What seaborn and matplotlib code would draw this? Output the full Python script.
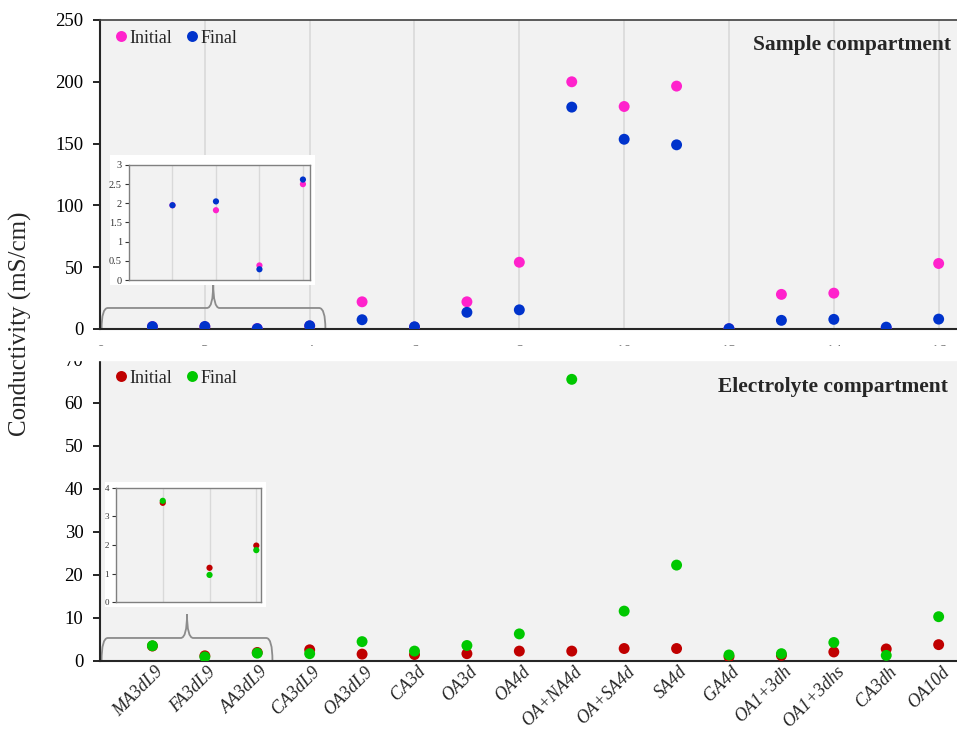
import numpy as np
import pandas as pd
import matplotlib
matplotlib.use("Agg")
import matplotlib.pyplot as plt
import matplotlib.transforms as mtransforms
from matplotlib.path import Path
from matplotlib.patches import PathPatch, Rectangle
from matplotlib.ticker import FixedLocator
import seaborn as sns

# ── Data ──────────────────────────────────────────────────────────────────────
samples = ["MA3dL9", "FA3dL9", "AA3dL9", "CA3dL9", "OA3dL9", "CA3d", "OA3d",
           "OA4d", "OA+NA4d", "OA+SA4d", "SA4d", "GA4d", "OA1+3dh", "OA1+3dhs",
           "CA3dh", "OA10d"]
position = list(range(1, len(samples) + 1))

sample_initial = [1.95, 1.82, 0.38, 2.50, 22.0, 1.5, 22.0, 54.0, 200.0, 180.0,
                  196.5, 0.2, 28.0, 29.0, 0.8, 53.0]
sample_final = [1.95, 2.05, 0.28, 2.62, 7.5, 1.8, 13.5, 15.5, 179.5, 153.5,
                149.0, 0.3, 7.0, 7.8, 1.5, 8.0]

electro_initial = [3.48, 1.20, 1.98, 2.6, 1.6, 1.5, 1.7, 2.3, 2.3, 2.9,
                   2.9, 1.0, 1.3, 2.1, 2.8, 3.8]
electro_final = [3.55, 0.95, 1.82, 1.7, 4.5, 2.3, 3.6, 6.3, 65.5, 11.6,
                 22.3, 1.4, 1.7, 4.3, 1.3, 10.3]

top_yticks = [0, 50, 100, 150, 200, 250]
bottom_yticks = [0, 10, 20, 30, 40, 50, 60, 70]
top_xticks = [0, 2, 4, 6, 8, 10, 12, 14, 16]

N_TOP_INSET = 4
N_BOT_INSET = 3

MAGENTA = "#FF22CC"
BLUE = "#0033CC"
RED = "#C00000"
GREEN = "#00C800"
FACE = "#F2F2F2"
GRID = "#D9D9D9"
BRACE = "#8C8C8C"


def long_frame(initial, final, n=None):
    n = n or len(initial)
    return pd.DataFrame({
        "x": position[:n] * 2,
        "value": initial[:n] + final[:n],
        "kind": ["Initial"] * n + ["Final"] * n,
    })


sns.set_style("white")
plt.rcParams["font.family"] = ["Liberation Serif", "DejaVu Serif"]

fig = plt.figure(figsize=(9.57, 7.29), dpi=100)
ax1 = fig.add_axes([0.1045, 0.5487, 0.8955, 0.4239])
ax2 = fig.add_axes([0.1045, 0.0933, 0.8955, 0.4129])
xmax = 16.35


def style_main(ax, yticks):
    ax.set_facecolor(FACE)
    ax.set_xlim(0, xmax)
    ax.set_ylim(yticks[0], yticks[-1])
    ax.set_yticks(yticks)
    ax.tick_params(axis="y", direction="out", length=5, width=1.2,
                   labelsize=13.5, colors="black", left=True, pad=7)
    ax.tick_params(axis="x", length=0)
    ax.spines["right"].set_visible(False)
    ax.spines["left"].set_linewidth(1.5)
    ax.spines["bottom"].set_linewidth(1.5)
    ax.spines["top"].set_color("#404040")
    ax.spines["top"].set_linewidth(1.2)
    ax.set_xlabel("")
    ax.set_ylabel("")


def legend_row(ax):
    sns.move_legend(ax, "upper left", ncol=2, frameon=False, title=None,
                    fontsize=13, handletextpad=0.05, handlelength=0.9,
                    columnspacing=0.6, borderaxespad=0.3,
                    bbox_to_anchor=(0.0, 1.01))


def brace(ax, x0, x1, xp, yh, yp, d=0.12):
    verts = [(x0, 0), (x0, yh), (x0 + d, yh),
             (xp - d, yh), (xp, yh), (xp, yp),
             (xp, yh), (xp + d, yh),
             (x1 - d, yh), (x1, yh), (x1, 0)]
    codes = [Path.MOVETO, Path.CURVE3, Path.CURVE3,
             Path.LINETO, Path.CURVE3, Path.CURVE3,
             Path.CURVE3, Path.CURVE3,
             Path.LINETO, Path.CURVE3, Path.CURVE3]
    ax.add_patch(PathPatch(Path(verts, codes), fill=False, edgecolor=BRACE,
                           lw=1.3, clip_on=False, zorder=2))


# ── Top panel: sample compartment ─────────────────────────────────────────────
sns.scatterplot(data=long_frame(sample_initial, sample_final), x="x", y="value",
                hue="kind", palette={"Initial": MAGENTA, "Final": BLUE},
                s=62, linewidth=0, ax=ax1, zorder=3)
style_main(ax1, top_yticks)
ax1.set_xticks(top_xticks)
ax1.set_xticklabels([str(t) for t in top_xticks], fontsize=12, color="#555555")
ax1.tick_params(axis="x", pad=11)
ax1.grid(axis="x", color=GRID, lw=1.2)
ax1.grid(axis="y", visible=False)
legend_row(ax1)
ax1.text(0.993, 0.918, "Sample compartment", transform=ax1.transAxes,
         ha="right", va="center", fontsize=15.5, fontweight="bold")
brace(ax1, 0.03, 4.3, 2.16, 17, 37)

# white strip between the panels, hiding most of the top panel's tick labels
fig.patches.append(Rectangle((40 / 957, 1 - 360 / 729), 1, 14 / 729,
                             color="white", transform=fig.transFigure,
                             zorder=5))

# ── Bottom panel: electrolyte compartment ─────────────────────────────────────
sns.scatterplot(data=long_frame(electro_initial, electro_final), x="x", y="value",
                hue="kind", palette={"Initial": RED, "Final": GREEN},
                s=62, linewidth=0, ax=ax2, zorder=3)
style_main(ax2, bottom_yticks)
ax2.set_xticks(position)
ax2.set_xticklabels(samples, rotation=45, ha="right", va="center",
                    rotation_mode="anchor", fontsize=13, fontstyle="italic")
ax2.tick_params(axis="x", pad=6)
shift = mtransforms.ScaledTranslation(8 / 100, 0, fig.dpi_scale_trans)
for lab in ax2.get_xticklabels():
    lab.set_transform(lab.get_transform() + shift)
ax2.xaxis.set_minor_locator(FixedLocator(top_xticks))
ax2.tick_params(axis="x", which="minor", length=0)
ax2.grid(axis="x", which="minor", color=GRID, lw=1.2)
ax2.grid(axis="x", which="major", visible=False)
ax2.grid(axis="y", visible=False)
legend_row(ax2)
ax2.text(0.989, 0.91, "Electrolyte compartment", transform=ax2.transAxes,
         ha="right", va="center", fontsize=15.5, fontweight="bold")
brace(ax2, 0.03, 3.29, 1.66, 5.35, 10.9)

fig.text(0.021, 0.556, "Conductivity (mS/cm)", rotation=90, ha="center",
         va="center", fontsize=18)


# ── Insets ────────────────────────────────────────────────────────────────────
def inset(box, pos, df, pal, xlim, yticks, ylabels, host, lsize):
    host.add_patch(Rectangle(box[:2], box[2], box[3], facecolor="white",
                             edgecolor="none", transform=fig.transFigure,
                             clip_on=False, zorder=4))
    ax = fig.add_axes(pos)
    ax.set_zorder(6)
    sns.scatterplot(data=df, x="x", y="value", hue="kind", palette=pal,
                    s=20, linewidth=0, ax=ax, legend=False, zorder=3)
    ax.set_facecolor(FACE)
    ax.set_xlim(*xlim)
    ax.set_ylim(yticks[0], yticks[-1])
    ax.set_xticks(df["x"].unique())
    ax.set_xticklabels([])
    ax.set_yticks(yticks)
    ax.set_yticklabels(ylabels)
    ax.tick_params(axis="x", length=0)
    ax.tick_params(axis="y", length=3, width=0.8, direction="out", left=True,
                   labelsize=lsize, pad=2, colors="#333333")
    ax.grid(axis="x", color=GRID, lw=1.0)
    ax.grid(axis="y", visible=False)
    for sp in ax.spines.values():
        sp.set_color("#808080")
        sp.set_linewidth(1.0)
    ax.set_xlabel("")
    ax.set_ylabel("")
    return ax


inset((0.1149, 0.609, 0.214, 0.178), [0.1348, 0.6159, 0.189, 0.1578],
      long_frame(sample_initial, sample_final, N_TOP_INSET),
      {"Initial": MAGENTA, "Final": BLUE}, (0, 4.16),
      [0, 0.5, 1, 1.5, 2, 2.5, 3], ["0", "0.5", "1", "1.5", "2", "2.5", "3"],
      ax1, 7.5)
inset((0.1097, 0.1674, 0.168, 0.1715), [0.1212, 0.1742, 0.1515, 0.1564],
      long_frame(electro_initial, electro_final, N_BOT_INSET),
      {"Initial": RED, "Final": GREEN}, (0, 3.1),
      [0, 1, 2, 3, 4], ["0", "1", "2", "3", "4"], ax2, 6.5)

fig.savefig("out.png", dpi=100, facecolor="white")
